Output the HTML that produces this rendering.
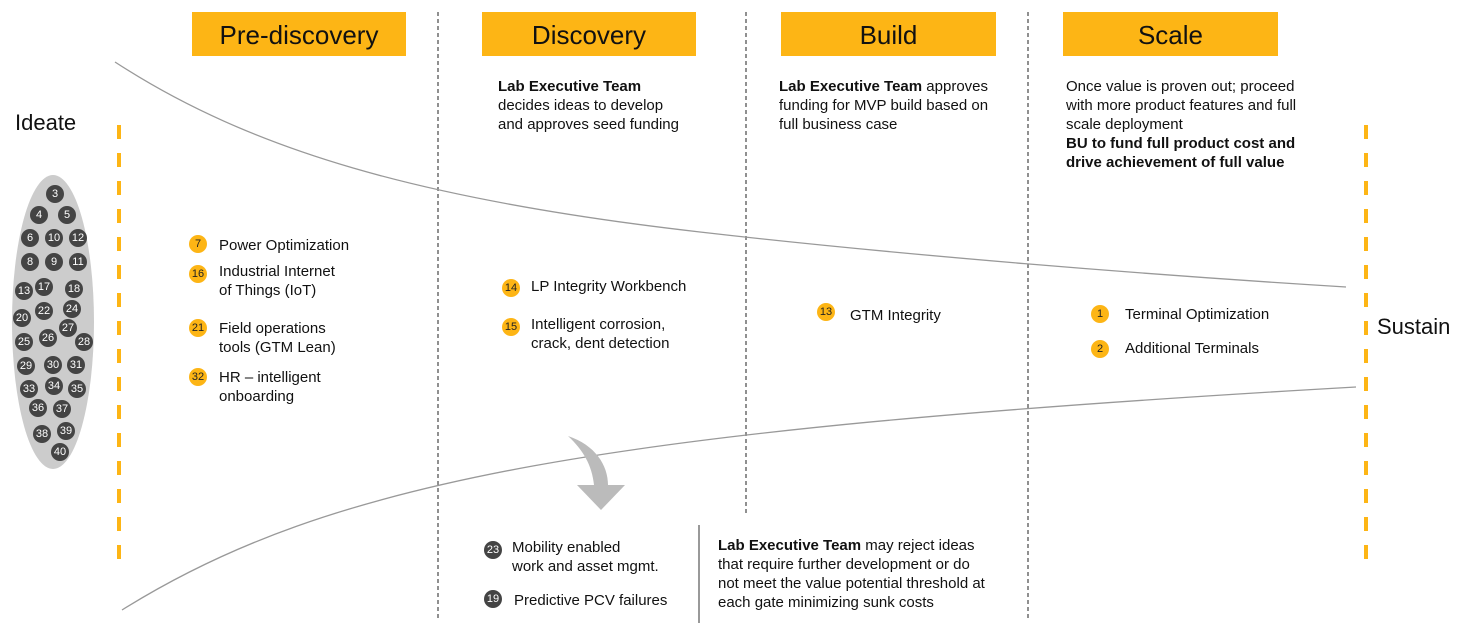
<!DOCTYPE html>
<html><head><meta charset="utf-8"><style>
body{margin:0;width:1466px;height:643px;background:#fff;position:relative;overflow:hidden;font-family:"Liberation Sans",Arial,sans-serif;color:#111}
.h{position:absolute;top:12px;height:44px;background:#FDB515;font-size:26px;text-align:center;line-height:46px;color:#111}
.t{position:absolute;font-size:15px;line-height:19px}
.b{position:absolute;width:18px;height:18px;border-radius:50%;background:#FDB515;font-size:11px;text-align:center;line-height:18px;color:#222}
.g{position:absolute;width:18px;height:18px;border-radius:50%;background:#444;font-size:11px;text-align:center;line-height:18px;color:#fff;margin:-9px 0 0 -9px}
</style></head><body>
<svg width="1466" height="643" style="position:absolute;left:0;top:0">
<g stroke="#222" stroke-width="1" stroke-dasharray="4,3">
<line x1="438" y1="12" x2="438" y2="620"/><line x1="746" y1="12" x2="746" y2="514"/><line x1="1028" y1="12" x2="1028" y2="620"/></g>
<line x1="699" y1="525" x2="699" y2="623" stroke="#333"/>
<g stroke="#FDB515" stroke-width="4" stroke-dasharray="14,14"><line x1="119" y1="125" x2="119" y2="562"/><line x1="1366" y1="125" x2="1366" y2="562"/></g>
<path d="M115,62 C250,150 420,200 700,232 C900,255 1150,275 1346,287" fill="none" stroke="#999" stroke-width="1.3"/>
<path d="M122,610 C330,480 600,430 1356,387" fill="none" stroke="#999" stroke-width="1.3"/>
<ellipse cx="53" cy="322" rx="41" ry="147" fill="#ccc"/>
<path d="M568,436 C595,445 608,465 608,485 L625,485 L601,510 L577,485 L594,485 C592,465 583,450 568,436 Z" fill="#bbb"/>
</svg>
<div class="h" style="left:192px;width:214px">Pre-discovery</div>
<div class="h" style="left:482px;width:214px">Discovery</div>
<div class="h" style="left:781px;width:215px">Build</div>
<div class="h" style="left:1063px;width:215px">Scale</div>
<div class="t" style="left:15px;top:110px;font-size:22px;line-height:26px">Ideate</div>
<div class="t" style="left:1377px;top:314px;font-size:22px;line-height:26px">Sustain</div>
<div class="t" style="left:498px;top:77px"><b>Lab Executive Team</b><br>decides ideas to develop<br>and approves seed funding</div>
<div class="t" style="left:779px;top:77px"><b>Lab Executive Team</b> approves<br>funding for MVP build based on<br>full business case</div>
<div class="t" style="left:1066px;top:77px">Once value is proven out; proceed<br>with more product features and full<br>scale deployment<br><b>BU to fund full product cost and<br>drive achievement of full value</b></div>
<div class="b" style="left:189px;top:235px">7</div><div class="t" style="left:219px;top:236px">Power Optimization</div>
<div class="b" style="left:189px;top:265px">16</div><div class="t" style="left:219px;top:262px">Industrial Internet<br>of Things (IoT)</div>
<div class="b" style="left:189px;top:319px">21</div><div class="t" style="left:219px;top:319px">Field operations<br>tools (GTM Lean)</div>
<div class="b" style="left:189px;top:368px">32</div><div class="t" style="left:219px;top:368px">HR – intelligent<br>onboarding</div>
<div class="b" style="left:502px;top:279px">14</div><div class="t" style="left:531px;top:277px">LP Integrity Workbench</div>
<div class="b" style="left:502px;top:318px">15</div><div class="t" style="left:531px;top:315px">Intelligent corrosion,<br>crack, dent detection</div>
<div class="b" style="left:817px;top:303px">13</div><div class="t" style="left:850px;top:306px">GTM Integrity</div>
<div class="b" style="left:1091px;top:305px">1</div><div class="t" style="left:1125px;top:305px">Terminal Optimization</div>
<div class="b" style="left:1091px;top:340px">2</div><div class="t" style="left:1125px;top:339px">Additional Terminals</div>
<div class="b" style="left:484px;top:541px;background:#444;color:#fff">23</div><div class="t" style="left:512px;top:538px">Mobility enabled<br>work and asset mgmt.</div>
<div class="b" style="left:484px;top:590px;background:#444;color:#fff">19</div><div class="t" style="left:514px;top:591px">Predictive PCV failures</div>
<div class="t" style="left:718px;top:536px"><b>Lab Executive Team</b> may reject ideas<br>that require further development or do<br>not meet the value potential threshold at<br>each gate minimizing sunk costs</div>
<div class="g" style="left:55px;top:194px">3</div><div class="g" style="left:39px;top:215px">4</div><div class="g" style="left:67px;top:215px">5</div>
<div class="g" style="left:30px;top:238px">6</div><div class="g" style="left:54px;top:238px">10</div><div class="g" style="left:78px;top:238px">12</div>
<div class="g" style="left:30px;top:262px">8</div><div class="g" style="left:54px;top:262px">9</div><div class="g" style="left:78px;top:262px">11</div>
<div class="g" style="left:24px;top:291px">13</div><div class="g" style="left:44px;top:287px">17</div><div class="g" style="left:74px;top:289px">18</div>
<div class="g" style="left:22px;top:318px">20</div><div class="g" style="left:44px;top:311px">22</div><div class="g" style="left:72px;top:309px">24</div>
<div class="g" style="left:68px;top:328px">27</div><div class="g" style="left:48px;top:338px">26</div><div class="g" style="left:24px;top:342px">25</div><div class="g" style="left:84px;top:342px">28</div>
<div class="g" style="left:26px;top:366px">29</div><div class="g" style="left:53px;top:365px">30</div><div class="g" style="left:76px;top:365px">31</div>
<div class="g" style="left:29px;top:389px">33</div><div class="g" style="left:54px;top:386px">34</div><div class="g" style="left:77px;top:389px">35</div>
<div class="g" style="left:38px;top:408px">36</div><div class="g" style="left:62px;top:409px">37</div>
<div class="g" style="left:42px;top:434px">38</div><div class="g" style="left:66px;top:431px">39</div><div class="g" style="left:60px;top:452px">40</div>
</body></html>
